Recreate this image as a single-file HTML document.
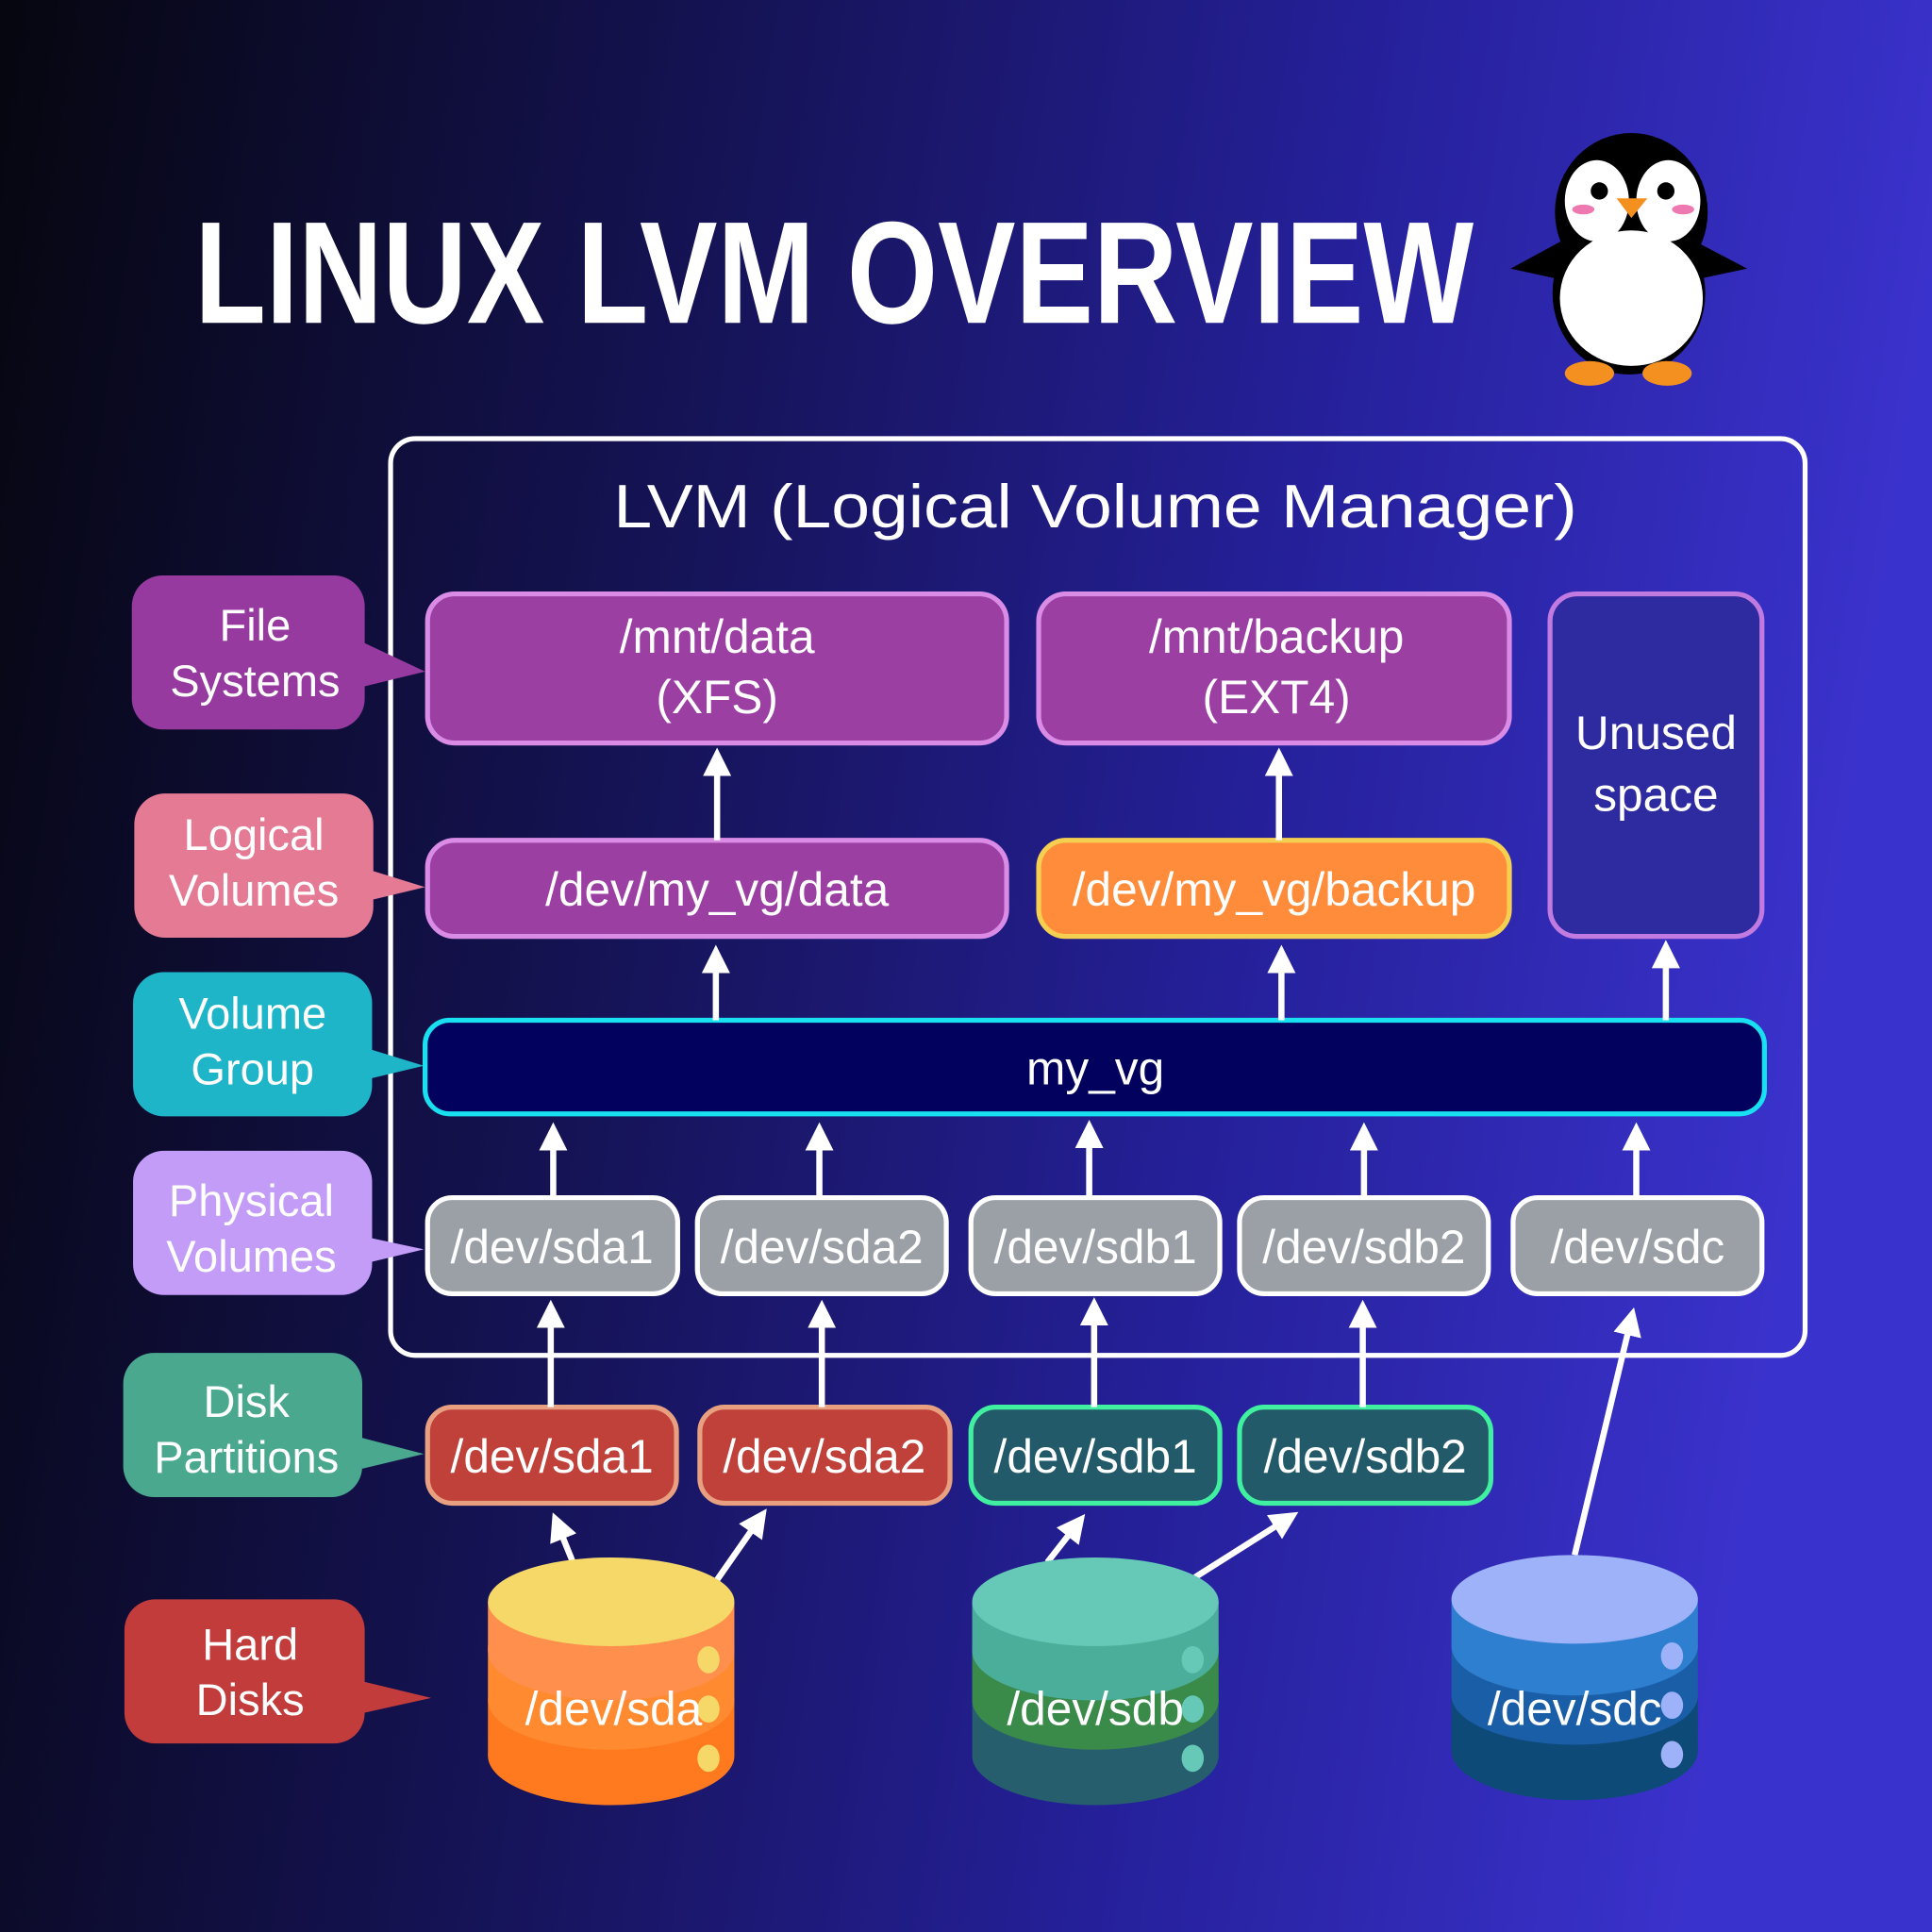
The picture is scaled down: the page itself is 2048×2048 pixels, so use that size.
<!DOCTYPE html>
<html><head><meta charset="utf-8"><style>html,body{margin:0;padding:0;background:#0a0a20}svg{display:block}</style></head>
<body>
<svg xmlns="http://www.w3.org/2000/svg" width="2048" height="2048" viewBox="0 0 1568 1568" font-family="Liberation Sans, DejaVu Sans, sans-serif">
<defs>
<linearGradient id="bg" x1="0" y1="0" x2="1" y2="0.15">
<stop offset="0" stop-color="#06060f"/><stop offset="0.35" stop-color="#141250"/><stop offset="0.7" stop-color="#25209a"/><stop offset="1" stop-color="#3a32cc"/>
</linearGradient>
<marker id="ah" viewBox="0 0 10 10" refX="6" refY="5" markerWidth="4.6" markerHeight="4.6" orient="auto"><path d="M0,0 L10,5 L0,10 Z" fill="#fff"/></marker>
</defs>
<rect width="1568" height="1568" fill="url(#bg)"/>
<text x="158" y="262" font-size="118" font-weight="bold" fill="#fff" textLength="1038" lengthAdjust="spacingAndGlyphs" font-family="Liberation Sans Narrow, Liberation Sans, sans-serif">LINUX LVM OVERVIEW</text>
<!-- penguin -->
<g>
<path d="M1226,218 L1285,186 L1290,232 Z" fill="#000"/>
<path d="M1418,218 L1357,186 L1352,232 Z" fill="#000"/>
<ellipse cx="1322" cy="238" rx="62" ry="66" fill="#000"/>
<ellipse cx="1324" cy="172" rx="62" ry="64" fill="#000"/>
<ellipse cx="1296" cy="163" rx="26" ry="33" fill="#fff"/>
<ellipse cx="1354" cy="163" rx="26" ry="33" fill="#fff"/>
<ellipse cx="1324" cy="242" rx="58" ry="55" fill="#fff"/>
<circle cx="1298" cy="155" r="7" fill="#000"/><circle cx="1352" cy="155" r="7" fill="#000"/>
<ellipse cx="1285" cy="170" rx="9" ry="4" fill="#ee78b0"/><ellipse cx="1366" cy="170" rx="9" ry="4" fill="#ee78b0"/>
<path d="M1312,161 L1337,161 L1324,177 Z" fill="#f39020"/>
<ellipse cx="1290" cy="303" rx="20" ry="10" fill="#f39020"/><ellipse cx="1353" cy="303" rx="20" ry="10" fill="#f39020"/>
</g>
<!-- LVM box -->
<rect x="317" y="356" width="1148" height="744" rx="20" fill="none" stroke="#fff" stroke-width="4"/>
<text x="498" y="428" font-size="50" fill="#fff" textLength="782" lengthAdjust="spacingAndGlyphs">LVM (Logical Volume Manager)</text>
<g stroke-width="4">
<rect x="347" y="482" width="470" height="121" rx="22" fill="#9b3fa3" stroke="#d98be6"/>
<rect x="843" y="482" width="382" height="121" rx="22" fill="#9b3fa3" stroke="#d98be6"/>
<rect x="1258" y="482" width="172" height="278" rx="22" fill="#2e2aa0" stroke="#c07ae0"/>
<rect x="347" y="682" width="470" height="78" rx="22" fill="#9b3fa3" stroke="#d98be6"/>
<rect x="843" y="682" width="382" height="78" rx="22" fill="#ff8c3a" stroke="#f5d050"/>
<rect x="345" y="828" width="1087" height="76" rx="20" fill="#02025e" stroke="#19e0f0"/>
<g fill="#9aa0a6" stroke="#fff">
<rect x="347" y="972" width="203" height="78" rx="20"/>
<rect x="566" y="972" width="202" height="78" rx="20"/>
<rect x="788" y="972" width="202" height="78" rx="20"/>
<rect x="1006" y="972" width="202" height="78" rx="20"/>
<rect x="1228" y="972" width="202" height="78" rx="20"/>
</g>
<rect x="347" y="1142" width="202" height="78" rx="20" fill="#c0403a" stroke="#e8a080"/>
<rect x="568" y="1142" width="203" height="78" rx="20" fill="#c0403a" stroke="#e8a080"/>
<rect x="788" y="1142" width="202" height="78" rx="20" fill="#235a6a" stroke="#40f0a0"/>
<rect x="1006" y="1142" width="204" height="78" rx="20" fill="#235a6a" stroke="#40f0a0"/>
</g>
<g fill="#fff" font-size="38" text-anchor="middle">
<text x="582" y="530">/mnt/data</text><text x="582" y="579">(XFS)</text>
<text x="1036" y="530">/mnt/backup</text><text x="1036" y="579">(EXT4)</text>
<text x="1344" y="608">Unused</text><text x="1344" y="658">space</text>
<text x="582" y="735">/dev/my_vg/data</text>
<text x="1034" y="735">/dev/my_vg/backup</text>
<text x="889" y="880">my_vg</text>
<text x="448" y="1025">/dev/sda1</text><text x="667" y="1025">/dev/sda2</text><text x="889" y="1025">/dev/sdb1</text><text x="1107" y="1025">/dev/sdb2</text><text x="1329" y="1025">/dev/sdc</text>
<text x="448" y="1195">/dev/sda1</text><text x="669" y="1195">/dev/sda2</text><text x="889" y="1195">/dev/sdb1</text><text x="1108" y="1195">/dev/sdb2</text>
</g>
<!-- arrows -->
<g stroke="#fff" stroke-width="5" marker-end="url(#ah)" fill="none">
<line x1="582" y1="682" x2="582" y2="616"/><line x1="1038" y1="682" x2="1038" y2="616"/>
<line x1="581" y1="828" x2="581" y2="776"/><line x1="1040" y1="828" x2="1040" y2="776"/><line x1="1352" y1="828" x2="1352" y2="772"/>
<line x1="449" y1="972" x2="449" y2="920"/><line x1="665" y1="972" x2="665" y2="920"/><line x1="884" y1="972" x2="884" y2="918"/><line x1="1107" y1="972" x2="1107" y2="920"/><line x1="1328" y1="972" x2="1328" y2="920"/>
<line x1="447" y1="1142" x2="447" y2="1064"/><line x1="667" y1="1142" x2="667" y2="1064"/><line x1="888" y1="1142" x2="888" y2="1062"/><line x1="1106" y1="1142" x2="1106" y2="1064"/>
<line x1="1278" y1="1262" x2="1324" y2="1070"/>
<line x1="465" y1="1268" x2="452" y2="1236"/><line x1="580" y1="1285" x2="617" y2="1232"/>
<line x1="850" y1="1268" x2="875" y2="1236"/><line x1="970" y1="1280" x2="1046" y2="1232"/>
</g>
<!-- left labels -->
<g font-size="36" fill="#fff" text-anchor="middle">
<path d="M107,492 a25,25 0 0 1 25,-25 h139 a25,25 0 0 1 25,25 v30 l49,23 l-49,12 v10 a25,25 0 0 1 -25,25 h-139 a25,25 0 0 1 -25,-25 z" fill="#973aa0"/>
<text x="207" y="520">File</text><text x="207" y="565">Systems</text>
<path d="M109,669 a25,25 0 0 1 25,-25 h144 a25,25 0 0 1 25,25 v38 l42,13 l-42,10 v6 a25,25 0 0 1 -25,25 h-144 a25,25 0 0 1 -25,-25 z" fill="#e57a95"/>
<text x="206" y="690">Logical</text><text x="206" y="735">Volumes</text>
<path d="M108,814 a25,25 0 0 1 25,-25 h144 a25,25 0 0 1 25,25 v38 l42,13 l-42,10 v6 a25,25 0 0 1 -25,25 h-144 a25,25 0 0 1 -25,-25 z" fill="#1fb5c9"/>
<text x="205" y="835">Volume</text><text x="205" y="880">Group</text>
<path d="M108,959 a25,25 0 0 1 25,-25 h144 a25,25 0 0 1 25,25 v46 l42,9 l-42,10 v2 a25,25 0 0 1 -25,25 h-144 a25,25 0 0 1 -25,-25 z" fill="#c39cf7"/>
<text x="204" y="987">Physical</text><text x="204" y="1032">Volumes</text>
<path d="M100,1123 a25,25 0 0 1 25,-25 h144 a25,25 0 0 1 25,25 v44 l50,13 l-50,12 v-2 a25,25 0 0 1 -25,25 h-144 a25,25 0 0 1 -25,-25 z" fill="#4aa88f"/>
<text x="200" y="1150">Disk</text><text x="200" y="1195">Partitions</text>
<path d="M101,1323 a25,25 0 0 1 25,-25 h145 a25,25 0 0 1 25,25 v42 l54,13 l-54,12 v0 a25,25 0 0 1 -25,25 h-145 a25,25 0 0 1 -25,-25 z" fill="#c33c3c"/>
<text x="203" y="1347">Hard</text><text x="203" y="1392">Disks</text>
</g>
<!-- disks -->
<g>
<rect x="396" y="1380" width="200" height="45" fill="#ff7a1e"/><ellipse cx="496" cy="1425" rx="100" ry="40" fill="#ff7a1e"/>
<rect x="396" y="1335" width="200" height="45" fill="#ff8a30"/><ellipse cx="496" cy="1380" rx="100" ry="40" fill="#ff8a30"/>
<rect x="396" y="1300" width="200" height="40" fill="#ff8f4c"/><ellipse cx="496" cy="1340" rx="100" ry="40" fill="#ff8f4c"/>
<ellipse cx="496" cy="1300" rx="100" ry="36" fill="#f6d868"/>
<g fill="#f6d868"><ellipse cx="575" cy="1347" rx="9" ry="11"/><ellipse cx="575" cy="1387" rx="9" ry="11"/><ellipse cx="575" cy="1427" rx="9" ry="11"/></g>
</g>
<g>
<rect x="789" y="1380" width="200" height="45" fill="#265e6e"/><ellipse cx="889" cy="1425" rx="100" ry="40" fill="#265e6e"/>
<rect x="789" y="1335" width="200" height="45" fill="#3a8a4a"/><ellipse cx="889" cy="1380" rx="100" ry="40" fill="#3a8a4a"/>
<rect x="789" y="1300" width="200" height="40" fill="#4aae9a"/><ellipse cx="889" cy="1340" rx="100" ry="40" fill="#4aae9a"/>
<ellipse cx="889" cy="1300" rx="100" ry="36" fill="#66c9b8"/>
<g fill="#66c9b8"><ellipse cx="968" cy="1347" rx="9" ry="11"/><ellipse cx="968" cy="1387" rx="9" ry="11"/><ellipse cx="968" cy="1427" rx="9" ry="11"/></g>
</g>
<g>
<rect x="1178" y="1376" width="200" height="45" fill="#0e4a78"/><ellipse cx="1278" cy="1421" rx="100" ry="40" fill="#0e4a78"/>
<rect x="1178" y="1332" width="200" height="45" fill="#1a5ea8"/><ellipse cx="1278" cy="1376" rx="100" ry="40" fill="#1a5ea8"/>
<rect x="1178" y="1298" width="200" height="38" fill="#2f7fd0"/><ellipse cx="1278" cy="1336" rx="100" ry="40" fill="#2f7fd0"/>
<ellipse cx="1278" cy="1298" rx="100" ry="36" fill="#9db2f8"/>
<g fill="#9db2f8"><ellipse cx="1357" cy="1344" rx="9" ry="11"/><ellipse cx="1357" cy="1384" rx="9" ry="11"/><ellipse cx="1357" cy="1424" rx="9" ry="11"/></g>
</g>
<g fill="#fff" font-size="38" text-anchor="middle">
<text x="498" y="1400">/dev/sda</text><text x="889" y="1400">/dev/sdb</text><text x="1278" y="1400">/dev/sdc</text>
</g>
</svg>
</body></html>
